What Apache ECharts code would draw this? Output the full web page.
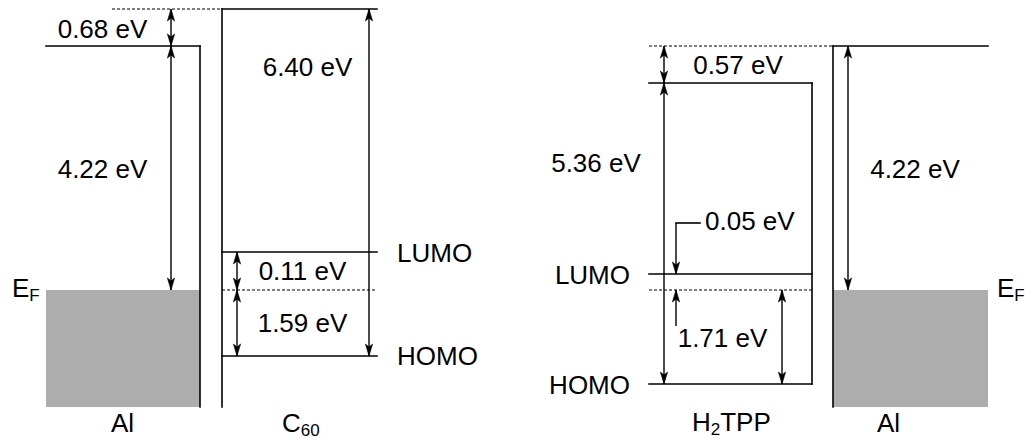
<!DOCTYPE html>
<html>
<head>
<meta charset="utf-8">
<script src="https://cdn.jsdelivr.net/npm/echarts@6/dist/echarts.min.js"></script>
<style>
  html, body { margin: 0; padding: 0; background: #ffffff; }
  #chart { width: 1025px; height: 441px; }
</style>
</head>
<body>
<div id="chart"></div>
<script>
// ---- Diagram data (schematic energy diagram, diagram units: x across, y = energy position, top = 0) ----
// Solid level / wall lines: [x1, y1, x2, y2]
const solidLines = [
  [46, 46, 200, 46],    // Al vacuum level (left)
  [200, 46, 200, 407],  // Al / C60 interface wall
  [222, 9, 377, 9],     // C60 vacuum level
  [222, 9, 222, 407],   // C60 wall
  [222, 252, 377, 252], // C60 LUMO
  [222, 356, 377, 356], // C60 HOMO
  [649, 83, 812, 83],   // H2TPP vacuum level
  [812, 83, 812, 384],  // H2TPP wall
  [649, 274, 812, 274], // H2TPP LUMO
  [649, 384, 812, 384], // H2TPP HOMO
  [833, 46, 988, 46],   // Al vacuum level (right)
  [833, 46, 833, 407],  // Al wall (right)
  [676, 223, 700, 223]  // 0.05 eV leader
];
// Dashed reference lines: [x1, y1, x2, y2]
const dashedLines = [
  [112, 9, 222, 9],
  [222, 290, 377, 290],
  [649, 46, 833, 46],
  [649, 290, 812, 290]
];
// Vertical arrows: [x, yFrom, yTo, headAtFrom (1/0), headAtTo (1/0)]
const arrows = [
  [171, 9, 46, 1, 1],    // 0.68 eV
  [171, 46, 290, 1, 1],  // 4.22 eV
  [369, 9, 356, 1, 1],   // 6.40 eV
  [237, 252, 290, 1, 1], // 0.11 eV
  [237, 290, 356, 1, 1], // 1.59 eV
  [664, 46, 83, 1, 1],   // 0.57 eV
  [664, 83, 384, 1, 1],  // 5.36 eV
  [848, 46, 290, 1, 1],  // 4.22 eV (right)
  [676, 223, 274, 0, 1], // 0.05 eV
  [676, 326, 290, 0, 1], // 1.71 eV leader
  [782, 290, 384, 1, 1]  // 1.71 eV
];
// Filled metal bands (below Fermi level): [x1, y1, x2, y2]
const metalBands = [
  [46, 290, 200, 407],
  [833, 290, 988, 407]
];
// Text labels ({s|..} marks a subscript)
const labelTexts = [
  '0.68 eV', '4.22 eV', '6.40 eV', '0.11 eV', '1.59 eV',
  'E{s|F}', 'Al', 'C{s|60}', 'LUMO', 'HOMO',
  '0.57 eV', '5.36 eV', '4.22 eV', '0.05 eV', '1.71 eV',
  'LUMO', 'HOMO', 'H{s|2}TPP', 'Al', 'E{s|F}'
];
// Label anchors: [x, y]
const labelAnchors = [
  [102.5, 28.5], [102.5, 168.5], [307.5, 67], [302.5, 271], [302.5, 322.5],
  [12, 287.5], [122.5, 423], [282, 422.5], [397, 252.5], [397, 356],
  [738, 64.5], [596, 162.5], [915, 168.5], [705, 221], [722.5, 337.5],
  [630, 275], [630, 385], [692, 422], [888.5, 423], [997, 287.5]
];
const labelAligns = [
  'center', 'center', 'center', 'center', 'center',
  'left', 'center', 'left', 'left', 'left',
  'center', 'center', 'center', 'left', 'center',
  'right', 'right', 'left', 'center', 'left'
];

// ---- Styles ----
const FONT = '"Liberation Sans", Arial, Helvetica, sans-serif';
const INK = '#000000';
const BAND = '#adadad';
const LW = 1.6;
const MAIN_SIZE = 26;
const SUB_SIZE = 17;
const SUB_DROP = 7.5; // subscript middle offset below main middle

const measureCtx = document.createElement('canvas').getContext('2d');
function textWidth(str, size) {
  measureCtx.font = size + 'px ' + FONT;
  return measureCtx.measureText(str).width;
}
function parseRich(str) {
  const parts = [];
  const re = /\{s\|([^}]*)\}/g;
  let last = 0, m;
  while ((m = re.exec(str)) !== null) {
    if (m.index > last) parts.push({ t: str.slice(last, m.index), sub: false });
    parts.push({ t: m[1], sub: true });
    last = re.lastIndex;
  }
  if (last < str.length) parts.push({ t: str.slice(last), sub: false });
  return parts;
}

const chart = echarts.init(document.getElementById('chart'), null, { renderer: 'svg' });

function arrowHead(tip, dirY) {
  // tip in pixels, dirY = -1 arrow points up, +1 points down
  const L = 12, W = 3.6, N = 9;
  const [tx, ty] = tip;
  return {
    type: 'polygon',
    shape: { points: [
      [tx, ty],
      [tx - W, ty - dirY * L],
      [tx, ty - dirY * N],
      [tx + W, ty - dirY * L]
    ] },
    style: { fill: INK, stroke: INK, lineWidth: 0.6 }
  };
}

const option = {
  animation: false,
  backgroundColor: '#ffffff',
  grid: { left: 0, right: 0, top: 0, bottom: 0, containLabel: false },
  xAxis: { type: 'value', min: 0, max: 1025, show: false },
  yAxis: { type: 'value', min: 0, max: 441, inverse: true, show: false },
  series: [
    {
      type: 'custom',
      name: 'bands',
      data: metalBands,
      encode: { x: [0, 2], y: [1, 3] },
      silent: true,
      z: 1,
      renderItem: function (params, api) {
        const p1 = api.coord([api.value(0), api.value(1)]);
        const p2 = api.coord([api.value(2), api.value(3)]);
        return {
          type: 'rect',
          shape: { x: p1[0], y: p1[1], width: p2[0] - p1[0], height: p2[1] - p1[1] },
          style: { fill: BAND }
        };
      }
    },
    {
      type: 'custom',
      name: 'dashed',
      data: dashedLines,
      encode: { x: [0, 2], y: [1, 3] },
      silent: true,
      z: 2,
      renderItem: function (params, api) {
        const p1 = api.coord([api.value(0), api.value(1)]);
        const p2 = api.coord([api.value(2), api.value(3)]);
        return {
          type: 'line',
          shape: { x1: p1[0], y1: p1[1], x2: p2[0], y2: p2[1] },
          style: { stroke: INK, lineWidth: 1.2, lineDash: [3, 2] }
        };
      }
    },
    {
      type: 'custom',
      name: 'levels',
      data: solidLines,
      encode: { x: [0, 2], y: [1, 3] },
      silent: true,
      z: 3,
      renderItem: function (params, api) {
        const p1 = api.coord([api.value(0), api.value(1)]);
        const p2 = api.coord([api.value(2), api.value(3)]);
        return {
          type: 'line',
          shape: { x1: p1[0], y1: p1[1], x2: p2[0], y2: p2[1] },
          style: { stroke: INK, lineWidth: LW, lineCap: 'square' }
        };
      }
    },
    {
      type: 'custom',
      name: 'arrows',
      data: arrows,
      encode: { x: 0, y: [1, 2] },
      silent: true,
      z: 4,
      renderItem: function (params, api) {
        const x = api.value(0);
        const pa = api.coord([x, api.value(1)]);
        const pb = api.coord([x, api.value(2)]);
        const children = [{
          type: 'line',
          shape: { x1: pa[0], y1: pa[1], x2: pb[0], y2: pb[1] },
          style: { stroke: INK, lineWidth: 1.4 }
        }];
        const dir = pb[1] > pa[1] ? 1 : -1;
        if (api.value(3)) children.push(arrowHead(pa, -dir));
        if (api.value(4)) children.push(arrowHead(pb, dir));
        return { type: 'group', children: children };
      }
    },
    {
      type: 'custom',
      name: 'labels',
      data: labelAnchors,
      encode: { x: 0, y: 1 },
      silent: true,
      z: 5,
      renderItem: function (params, api) {
        const p = api.coord([api.value(0), api.value(1)]);
        const i = params.dataIndex;
        const parts = parseRich(labelTexts[i]);
        const widths = parts.map(function (pt) { return textWidth(pt.t, pt.sub ? SUB_SIZE : MAIN_SIZE); });
        const total = widths.reduce(function (a, b) { return a + b; }, 0);
        let x0 = p[0];
        if (labelAligns[i] === 'center') x0 -= total / 2;
        else if (labelAligns[i] === 'right') x0 -= total;
        const children = [];
        let cx = x0;
        parts.forEach(function (pt, k) {
          children.push({
            type: 'text',
            x: cx,
            y: p[1] + (pt.sub ? SUB_DROP : 0),
            style: {
              text: pt.t,
              fill: INK,
              fontFamily: FONT,
              fontSize: pt.sub ? SUB_SIZE : MAIN_SIZE,
              align: 'left',
              verticalAlign: 'middle'
            }
          });
          cx += widths[k];
        });
        return { type: 'group', children: children };
      }
    }
  ]
};
chart.setOption(option);
</script>
</body>
</html>
